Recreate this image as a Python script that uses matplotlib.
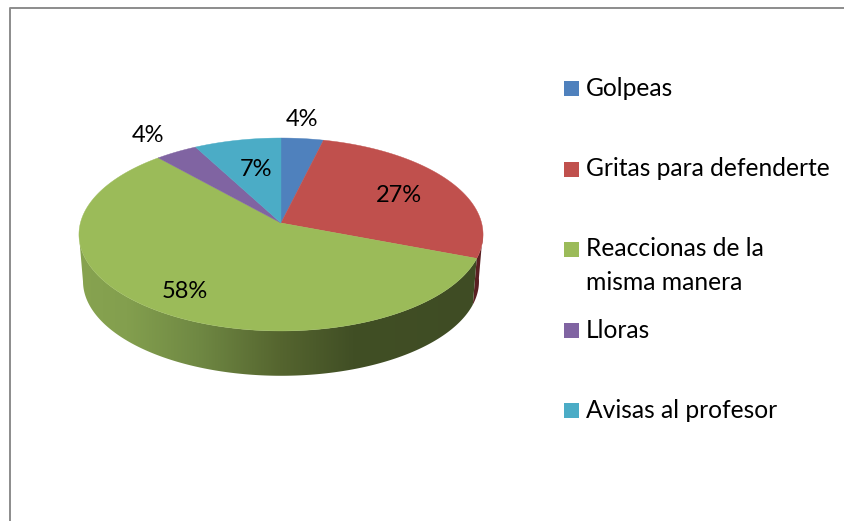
import numpy as np
import matplotlib
matplotlib.use('Agg')
import matplotlib.pyplot as plt
from matplotlib.colors import LinearSegmentedColormap
from matplotlib.patches import Polygon, Rectangle

categories = ['Golpeas', 'Gritas para defenderte', 'Reaccionas de la\nmisma manera', 'Lloras', 'Avisas al profesor']
values = [3.8, 27, 57.6, 3.8, 7.8]
pct_labels = ['4%', '27%', '58%', '4%', '7%']
colors = ['#4F81BD', '#C0504D', '#9BBB59', '#8064A2', '#4BACC6']

# pie geometry in pixels, the tilt is a perspective squash of a unit circle
APEX = (281, 223)
RX, RY, TILT = 200.6, 95.1, 0.119
DEPTH, SHRINK = 47, 0.98

LABEL_POS = [(302, 120), (399, 195), (185, 292), (148, 135), (256, 170)]
LEGEND_Y = [88, 169, 249, 330, 410]
FONT = 'Lato'
FS_LABEL = 17
FS_LEGEND = 17.7


def project(theta, radius=1.0, depth=0.0, scale=1.0):
    # theta in degrees, clockwise from the top
    t = np.radians(theta)
    u, v = radius * np.sin(t), radius * np.cos(t)
    den = 1 + TILT * v
    return APEX[0] + scale * RX * u / den, APEX[1] + depth - scale * RY * v / den


def arc(t1, t2, depth=0.0, scale=1.0):
    th = np.linspace(t1, t2, 200)
    x, y = project(th, depth=depth, scale=scale)
    return np.column_stack([x, y])


def side_patch(t1, t2):
    return np.vstack([arc(t1, t2), arc(t2, t1, DEPTH, SHRINK)])


fig = plt.figure(figsize=(8.44, 5.21), dpi=100)
ax = fig.add_axes([0, 0, 1, 1])
ax.set_xlim(0, 844)
ax.set_ylim(521, 0)
ax.axis('off')

# chart frame, only left and top show in the picture
ax.plot([9.5, 9.5, 844], [521, 7.5, 7.5], color='#8c8c8c', lw=1.4, zorder=1)

edges = np.cumsum([0] + values) / sum(values) * 360

# red piece of the wall that peeks out on the right
ax.add_patch(Polygon(side_patch(95, edges[2]), closed=True, fc='#5A1F22', ec='none', zorder=2))

# green wall with the horizontal shading
shade = LinearSegmentedColormap.from_list('shade', [
    (0.00, '#87A350'), (0.12, '#839F4E'), (0.30, '#6F8843'),
    (0.50, '#55652F'), (0.68, '#414F25'), (1.00, '#3F4C24')])
wall = Polygon(side_patch(edges[2], 263), closed=True, fc='none', ec='none', zorder=3)
ax.add_patch(wall)
im = ax.imshow(np.linspace(0, 1, 256).reshape(1, -1), cmap=shade, extent=(78, 482, 400, 220),
               aspect='auto', zorder=3)
im.set_clip_path(wall)
ax.set_xlim(0, 844)
ax.set_ylim(521, 0)

# top of the pie
for i in range(len(values)):
    pts = np.vstack([[APEX], arc(edges[i], edges[i + 1])])
    ax.add_patch(Polygon(pts, closed=True, fc=colors[i], ec=colors[i], lw=0.3, zorder=4))

for lab, (x, y) in zip(pct_labels, LABEL_POS):
    ax.text(x, y, lab, ha='center', va='center', family=FONT, fontsize=FS_LABEL, color='black', zorder=5)

# legend
for name, c, y in zip(categories, colors, LEGEND_Y):
    ax.add_patch(Rectangle((564, y - 7.5), 15, 15, fc=c, ec='none', zorder=4))
    for k, line in enumerate(name.split('\n')):
        ax.text(585.5, y + 33 * k, line, ha='left', va='center', family=FONT, fontsize=FS_LEGEND, color='black')

fig.savefig('out.png', dpi=100)
